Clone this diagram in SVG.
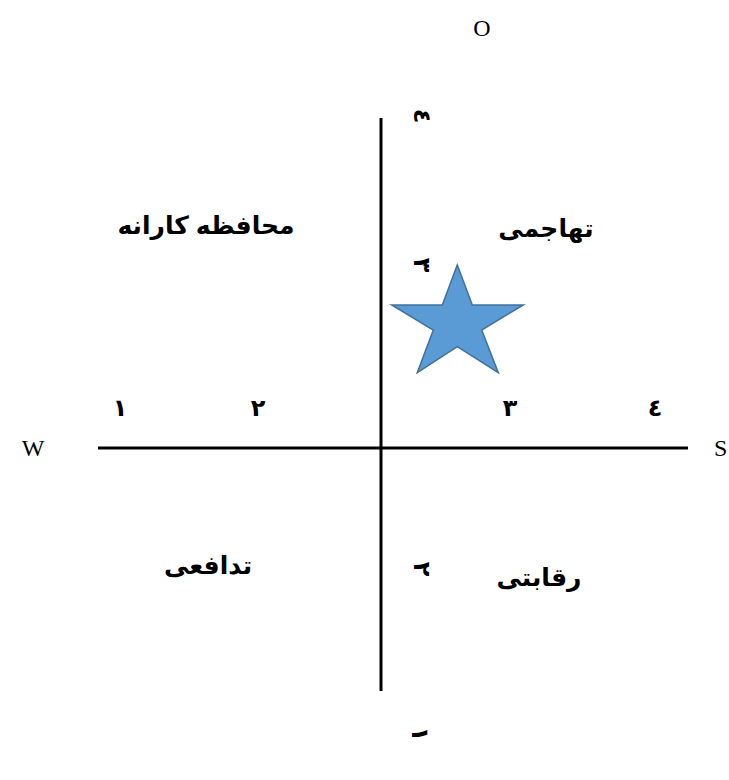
<svg xmlns="http://www.w3.org/2000/svg" width="729" height="780" viewBox="0 0 729 780">
<style>
.lat{font-family:"Liberation Serif","Times New Roman",serif;font-size:24px;fill:#000}
.ar{font-family:"Liberation Sans","DejaVu Sans",sans-serif;font-weight:bold;fill:#000;text-anchor:middle}
.lbl{font-size:25px}
.num{font-size:24px}
.axis{stroke:#000;stroke-width:3;fill:none}
</style>
<rect width="729" height="780" fill="#fff"/>
<g id="connectors">
<line class="axis" x1="381" y1="118" x2="381" y2="691"/>
<line class="axis" x1="98" y1="448" x2="688" y2="448"/>
</g>
<g id="axis-labels">
<text class="lat" x="482" y="36" text-anchor="middle">O</text>
<text class="lat" x="33" y="456" text-anchor="middle">W</text>
<text class="lat" x="714" y="456">S</text>
</g>
<g id="x-numbers">
<text class="ar num" x="120" y="416">١</text>
<text class="ar num" x="258" y="416">٢</text>
<text class="ar num" x="510" y="416">٣</text>
<text class="ar num" x="655" y="416">٤</text>
</g>
<g id="y-numbers">
<text class="ar num" transform="translate(414,116) rotate(90)">٤</text>
<text class="ar num" transform="translate(414,265) rotate(90)">٣</text>
<text class="ar num" transform="translate(414,569) rotate(90)">٢</text>
<text class="ar num" transform="translate(412,734) rotate(90)">١</text>
</g>
<g id="offensive"><text class="ar lbl" x="546" y="237">تهاجمی</text></g>
<g id="conservative"><text class="ar lbl" x="206" y="234">محافظه كارانه</text></g>
<g id="defensive"><text class="ar lbl" x="208" y="574">تدافعی</text></g>
<g id="competitive"><text class="ar lbl" x="539" y="586">رقابتی</text></g>
<g id="star">
<polygon points="457.3,265 472.3,305 523.3,305 481.7,330 498.3,372.7 457.3,346.7 417.3,372.7 433.3,330 391.7,305 442.3,305" fill="#5B9BD5" stroke="#41719C" stroke-width="1.5" stroke-linejoin="miter"/>
</g>
</svg>
